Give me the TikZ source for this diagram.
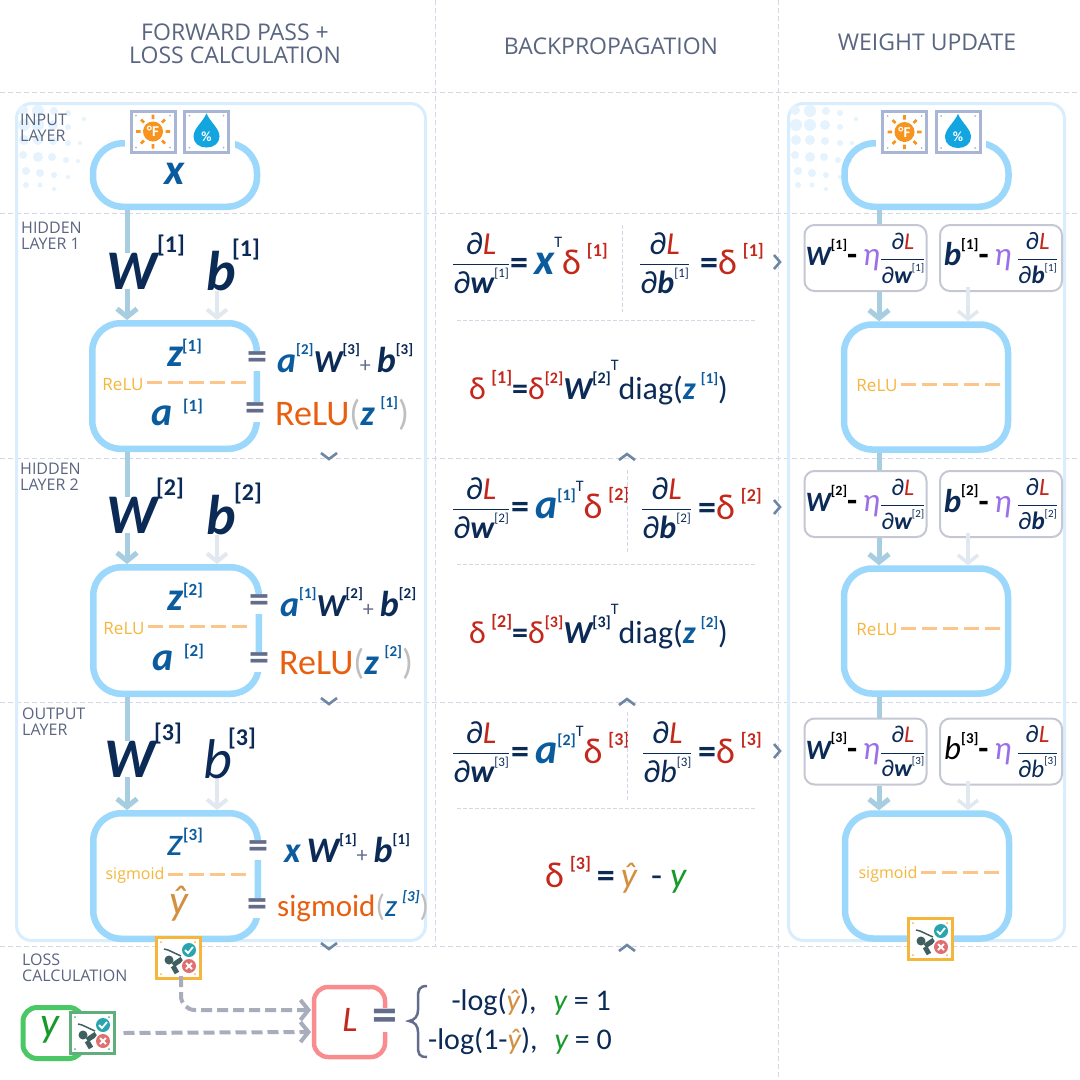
\documentclass[tikz,border=0pt]{standalone}
\usepackage{amsmath}
\usepackage{fontspec}
\setmainfont{Carlito}
\newfontfamily\headfont{Open Sans}
\usetikzlibrary{arrows.meta, positioning, shapes.misc}

\definecolor{navyink}{HTML}{0B2A55}
\definecolor{deepblue}{HTML}{0B5C9E}
\definecolor{errred}{HTML}{C4281C}
\definecolor{relured}{HTML}{E8600F}
\definecolor{labelgold}{HTML}{F5B63C}
\definecolor{dashgold}{HTML}{FCC58A}
\definecolor{etapurple}{HTML}{9A6FE8}
\definecolor{truegreen}{HTML}{179A2A}
\definecolor{predgold}{HTML}{D29040}
\definecolor{eqgray}{HTML}{636C8B}
\definecolor{boxblue}{HTML}{9BD8FB}
\definecolor{panelblue}{HTML}{D8EDFD}
\definecolor{gridgray}{HTML}{D5D8E4}
\definecolor{headgray}{HTML}{5A6580}
\definecolor{wshaft}{HTML}{A6CDE0}
\definecolor{bshaft}{HTML}{E2E8EF}
\definecolor{chevblue}{HTML}{6D87A4}
\definecolor{iconrim}{HTML}{A9B5D4}
\definecolor{updaterim}{HTML}{C5C8D4}
\definecolor{lossdash}{HTML}{A8ADBC}
\definecolor{sunorange}{HTML}{F7941D}
\definecolor{dropblue}{HTML}{12A5E0}
\definecolor{goodteal}{HTML}{2AA5B0}
\definecolor{badred}{HTML}{E07070}
\definecolor{golfer}{HTML}{3F5F60}
\definecolor{ybright}{HTML}{4CC766}
\definecolor{yrim}{HTML}{5FAE7B}
\definecolor{lossrim}{HTML}{F98C8F}

\newcommand{\pt}[1]{\fontsize{#1}{#1}\selectfont}
\newcommand{\nv}[1]{\textcolor{navyink}{\bfseries\itshape #1}}
\newcommand{\bv}[1]{\textcolor{deepblue}{\bfseries\itshape #1}}
\newcommand{\rd}[1]{\textcolor{errred}{#1}}
\newcommand{\up}[2][15]{\raisebox{.5em}{\pt{#1}\bfseries [#2]}}
\newcommand{\upl}[2][13]{\raisebox{.5em}{\pt{#1}\mdseries\upshape [#2]}}
\newcommand{\upT}[1][.9em]{\raisebox{#1}{\pt{16}\mdseries T}}
\newcommand{\dl}[1]{\rd{δ\,\up[18]{#1}}}
\newcommand{\grad}[1]{\textcolor{navyink}{$\genfrac{}{}{1pt}{0}{\hbox{∂\rd{\itshape L}}}{\hbox{∂#1}}$}}

\tikzset{
	grid line/.style={draw=gridgray, line width=1pt, dash pattern=on 5pt off 3pt},
	panel/.style={draw=panelblue, line width=3pt, rounded corners=15pt, minimum width=409pt, minimum height=837pt, inner sep=0pt},
	layerbox/.style={draw=boxblue, line width=6.5pt, rounded corners=28pt, minimum width=164.5pt, minimum height=125.5pt, inner sep=0pt},
	inputbox/.style={draw=boxblue, line width=6.5pt, rounded corners=30pt, minimum width=164pt, minimum height=63.5pt, inner sep=0pt},
	updatebox/.style={draw=updaterim, line width=2pt, rounded corners=10pt, fill=white, minimum width=122pt, minimum height=66pt, inner sep=0pt, font=\pt{33}},
	layername/.style={align=left, anchor=north west, inner sep=0pt, text=headgray, font=\headfont\pt{16}},
	colhead/.style={align=center, inner sep=0pt, text=headgray, font=\headfont\pt{23}},
	eqsign/.style={fill=white, inner sep=1pt, text=eqgray, font=\bfseries\pt{40}},
	bigvar/.style={inner sep=0pt, text=navyink, font=\bfseries\itshape\pt{56}},
	bigsup/.style={inner sep=0pt, text=navyink, font=\bfseries\pt{24}},
	formula/.style={inner sep=0pt, text=navyink, font=\pt{36}},
	nodevar/.style={inner sep=0pt, text=deepblue, font=\bfseries\itshape\pt{40}},
	acttext/.style={inner sep=0pt, text=labelgold, font=\headfont\pt{17}},
	actdash/.style={draw=dashgold, line width=3pt, dash pattern=on 15pt off 6pt},
	wline/.style={draw=wshaft, line width=5pt},
	warrow/.style={wline, -{Straight Barb[length=8pt,width=20pt]}},
	barrow/.style={draw=bshaft, line width=4pt, -{Straight Barb[length=8pt,width=20pt]}},
	lossarrow/.style={draw=lossdash, line width=4pt, dash pattern=on 11pt off 5pt, rounded corners=14pt, -{Straight Barb[length=8pt,width=20pt]}},
	chamfer/.style={chamfered rectangle, chamfered rectangle xsep=6pt, chamfered rectangle ysep=6pt, fill=white, line width=3pt, minimum width=44pt, minimum height=41pt, inner sep=0pt},
	midrule/.style={draw=gridgray, line width=1pt, dash pattern=on 4pt off 2pt},
	chev/.style={draw=chevblue, line width=2.6pt},
	cornerdots/.pic={\fill[pic actions] (-17,-16) circle (1pt) (17,-16) circle (1pt) (-17,16) circle (1pt) (17,16) circle (1pt);},
	sunicon/.pic={
		\fill[sunorange] (0,0) circle (10pt);
		\draw[sunorange, line width=2.8pt] (0,-12.5) -- (0,-17) (0,12.5) -- (0,17) (12.5,0) -- (17,0) (-12.5,0) -- (-17,0)
			(9,-9) -- (12,-12) (-9,-9) -- (-12,-12) (9,9) -- (12,12) (-9,9) -- (-12,12);
		\node[text=white, inner sep=0pt, font=\bfseries\pt{15}] (sunlabel) at (0,0) {°F};
	},
	dropicon/.pic={
		\fill[dropblue] (0,-18) .. controls (4,-9) and (13,-3) .. (13,5) .. controls (13,12) and (7,16) .. (0,16) .. controls (-7,16) and (-13,12) .. (-13,5) .. controls (-13,-3) and (-4,-9) .. (0,-18);
		\node[text=white, inner sep=0pt, font=\bfseries\pt{14}] (droplabel) at (0,5) {\%};
	},
	golficon/.pic={
		\draw[golfer, line width=1.5pt] (-14,-9) -- (-10,-8) -- (3,-2);
		\fill[golfer] (-9,2) circle (4.5pt);
		\draw[golfer, line width=5pt] (-5,7) -- (4,1) (-5,8) -- (-1,15);
		\fill[white] (11,-8) circle (8.5pt) (11,8) circle (8.5pt);
		\fill[goodteal] (11,-8) circle (7pt);
		\draw[white, line width=1.8pt] (7,-8) -- (10,-5) -- (15,-11);
		\fill[badred] (11,8) circle (7pt);
		\draw[white, line width=1.8pt] (8,5) -- (14,11) (8,11) -- (14,5);
	},
	chevdown/.pic={\draw[chev] (-8,-4) -- (0,2) -- (8,-4);},
	chevup/.pic={\draw[chev] (-8,4) -- (0,-2) -- (8,4);},
	chevright/.pic={\draw[chev] (-3,-7) -- (3,0) -- (-3,7);},
	halftone/.pic={
		\fill[panelblue!70] (5,5) circle (5pt) (20,6) circle (6pt) (36,6) circle (4pt) (50,8) circle (3pt) (66,14) circle (2pt)
			(6,20) circle (6pt) (20,20) circle (6pt) (35,20) circle (5pt) (50,22) circle (3pt)
			(6,35) circle (5pt) (20,35) circle (5pt) (35,36) circle (4pt) (50,38) circle (3pt) (62,38) circle (2pt)
			(5,50) circle (4pt) (20,52) circle (5pt) (34,52) circle (4pt) (48,55) circle (3pt) (60,56) circle (2pt)
			(8,66) circle (4pt) (22,68) circle (4pt) (36,70) circle (3pt) (50,72) circle (2pt)
			(8,80) circle (3pt) (22,80) circle (2.5pt) (36,84) circle (2pt);
	}
}

\begin{document}
\begin{tikzpicture}[x=1pt, y=-1pt]
	\useasboundingbox[fill=white] (0,0) rectangle (1080,1080);
	
	% column and layer rulers
	\draw[grid line] (0,92) -- (1080,92);
	\draw[grid line] (0,213) -- (1080,213);
	\draw[grid line] (0,458) -- (1080,458);
	\draw[grid line] (0,702) -- (1080,702);
	\draw[grid line] (0,946) -- (1080,946);
	\draw[grid line] (435,0) -- (435,946);
	\draw[grid line] (778,0) -- (778,1080);
	
	\node[colhead] (headforward) at (235,43.5) {FORWARD PASS +\\LOSS CALCULATION};
	\node[colhead] (headback) at (611,46) {BACKPROPAGATION};
	\node[colhead] (headupdate) at (927,42) {WEIGHT UPDATE};
	
	% panels
	\node[panel] (leftpanel) at (221,522) {};
	\node[panel, minimum width=276pt] (rightpanel) at (926.5,522) {};
	\pic at (18,105) {halftone};
	\pic at (790,105) {halftone};
	
	\node[layername] (nameinput) at (20,114) {INPUT\\LAYER};
	\node[layername] (namehid1) at (21,222) {HIDDEN\\LAYER 1};
	\node[layername] (namehid2) at (20,463) {HIDDEN\\LAYER 2};
	\node[layername] (nameout) at (22,708) {OUTPUT\\LAYER};
	\node[layername] (nameloss) at (22,954) {LOSS\\CALCULATION};
	
	% arrow columns
	\coordinate (wx) at (127,0);
	\coordinate (bx) at (217,0);
	\coordinate (wr) at (879,0);
	\coordinate (br) at (968,0);
	
	% forward pass
	\node[inputbox] (inp) at (175,175) {};
	\node[nodevar, font=\bfseries\itshape\pt{44}] (xlabel) at (175,174) {x};
	\node[fill=white, minimum width=110pt, minimum height=14pt, inner sep=0pt] (inpgap) at (180,144) {};
	\node[chamfer, draw=iconrim] (temp) at (153,131.5) {};
	\pic[fill=iconrim] at (temp) {cornerdots};
	\pic at (temp) {sunicon};
	\node[chamfer, draw=iconrim] (humid) at (206.5,131.5) {};
	\pic[fill=iconrim] at (humid) {cornerdots};
	\pic at (humid) {dropicon};
	
	\node[bigvar] (w1) at (132,271) {W};
	\node[bigsup] (w1s) at (171,246) {[1]};
	\node[bigvar] (b1) at (221,271) {b};
	\node[bigsup] (b1s) at (246,250) {[1]};
	\node[layerbox] (hid1) at (174.5,386) {};
	\draw[wline] (inp.south -| wx) -- (w1.north -| wx);
	\draw[warrow] (w1.south -| wx) -- (hid1.north -| wx);
	\draw[barrow] (b1.south -| bx) -- (hid1.north -| bx);
	\node[nodevar] (z1) at (175,357) {z};
	\node[inner sep=0pt, text=deepblue, font=\bfseries\pt{17}] (z1s) at (192,347) {[1]};
	\node[nodevar] (a1) at (162,416) {a};
	\node[inner sep=0pt, text=deepblue, font=\bfseries\pt{17}] (a1s) at (193,407) {[1]};
	\node[acttext] (act1) at (123,385) {ReLU};
	\draw[actdash] (act1.east) ++(3pt,3pt) -- ++(101pt,0);
	\node[eqsign] (eqz1) at (257,361) {=};
	\node[eqsign] (eqa1) at (255,412) {=};
	\node[formula, anchor=west] (zf1) at (277,358) {\bv{a}\textcolor{deepblue}{\up{2}}{\pt{32}\nv{W}}\up{3}\textcolor{eqgray}{\pt{22}+}\,\nv{b}\up{3}};
	\node[formula, anchor=west] (af1) at (275,414) {\textcolor{relured}{ReLU}\textcolor{black!25}{(}\bv{z}\,\textcolor{deepblue}{\up{1}}\textcolor{black!25}{)}};
	
	\node[bigvar] (w2) at (132,515) {W};
	\node[bigsup] (w2s) at (170,489) {[2]};
	\node[bigvar] (b2) at (221,515) {b};
	\node[bigsup] (b2s) at (248,494) {[2]};
	\node[layerbox, minimum width=165.5pt, minimum height=126.5pt] (hid2) at (176,630.5) {};
	\draw[wline] (hid1.south -| wx) -- (w2.north -| wx);
	\draw[warrow] (w2.south -| wx) -- (hid2.north -| wx);
	\draw[barrow] (b2.south -| bx) -- (hid2.north -| bx);
	\node[nodevar] (z2) at (175,601) {z};
	\node[inner sep=0pt, text=deepblue, font=\bfseries\pt{17}] (z2s) at (193,591) {[2]};
	\node[nodevar] (a2) at (163,661) {a};
	\node[inner sep=0pt, text=deepblue, font=\bfseries\pt{17}] (a2s) at (194,652) {[2]};
	\node[acttext] (act2) at (124,629) {ReLU};
	\draw[actdash] (act2.east) ++(3pt,3pt) -- ++(101pt,0);
	\node[eqsign] (eqz2) at (259,604) {=};
	\node[eqsign] (eqa2) at (259,662) {=};
	\node[formula, anchor=west] (zf2) at (280,602) {\bv{a}\textcolor{deepblue}{\up{1}}{\pt{32}\nv{W}}\up{2}\textcolor{eqgray}{\pt{22}+}\,\nv{b}\up{2}};
	\node[formula, anchor=west] (af2) at (279,663) {\textcolor{relured}{ReLU}\textcolor{black!25}{(}\bv{z}\,\textcolor{deepblue}{\up{2}}\textcolor{black!25}{)}};
	
	\node[bigvar] (w3) at (130,759) {W};
	\node[bigsup] (w3s) at (168,733) {[3]};
	\node[bigvar, font=\itshape\pt{56}] (b3) at (218,759) {b};
	\node[bigsup] (b3s) at (242,738) {[3]};
	\node[layerbox] (out) at (175.5,876) {};
	\draw[wline] (hid2.south -| wx) -- (w3.north -| wx);
	\draw[warrow] (w3.south -| wx) -- (out.north -| wx);
	\draw[barrow] (b3.south -| bx) -- (out.north -| bx);
	\node[nodevar, font=\itshape\pt{40}] (z3) at (175,846) {z};
	\node[inner sep=0pt, text=deepblue, font=\bfseries\pt{17}] (z3s) at (193,836) {[3]};
	\node[formula, text=predgold, font=\itshape\pt{42}] (yhat) at (179,904) {ŷ};
	\node[acttext, font=\headfont\pt{16}] (act3) at (135,875) {sigmoid};
	\draw[actdash] (act3.east) ++(3pt,1pt) -- ++(78pt,0);
	\node[eqsign] (eqz3) at (258,850) {=};
	\node[eqsign] (eqa3) at (257,908) {=};
	\node[formula, anchor=west] (zf3) at (284,848) {\bv{x}\,\nv{W}\up{1}\textcolor{eqgray}{\pt{22}+}\,\nv{b}\up{1}};
	\node[formula, anchor=west, font=\pt{31}] (af3) at (277,906) {\textcolor{relured}{sigmoid}\textcolor{black!25}{(}\textcolor{deepblue}{\itshape z\,\up{3}}\textcolor{black!25}{)}};
	
	\pic at (329,457) {chevdown};
	\pic at (329,702) {chevdown};
	\pic at (329,947) {chevdown};
	
	% backpropagation
	\node[formula, anchor=base west, font=\pt{32}] (gw1) at (452,271) {\grad{\nv{w}\upl{1}}};
	\node[formula, anchor=base west] (gw1r) at (510,274) {\textbf{=}\,{\pt{44}\bv{x}}\upT[.75em]\dl{1}};
	\draw[midrule] (622,225) -- (622,312);
	\node[formula, anchor=base west, font=\pt{32}] (gb1) at (639,271) {\grad{\nv{b}\upl{1}}};
	\node[formula, anchor=base west] (gb1r) at (700,274) {\textbf{=}\dl{1}};
	\draw[midrule] (457,320) -- (755,320);
	\node[formula, anchor=west, font=\pt{32}] (d1) at (469,383) {\dl{1}\textbf{=}\rd{δ\up[16]{2}}\nv{W}\up[16]{2}\upT diag(\bv{z}\,\textcolor{deepblue}{\up{1}})};
	\pic at (777,262) {chevright};
	\pic at (627,456) {chevup};
	
	\node[formula, anchor=base west, font=\pt{32}] (gw2) at (452,516) {\grad{\nv{w}\upl{2}}};
	\node[formula, anchor=base west] (gw2r) at (511,518) {\textbf{=}\,{\pt{42}\bv{a}}\textcolor{deepblue}{\up[16]{1}}\upT[.75em]\dl{2}};
	\draw[midrule] (627,470) -- (627,553);
	\node[formula, anchor=base west, font=\pt{32}] (gb2) at (641,516) {\grad{\nv{b}\upl{2}}};
	\node[formula, anchor=base west] (gb2r) at (698,519) {\textbf{=}\dl{2}};
	\draw[midrule] (457,564) -- (755,564);
	\node[formula, anchor=west, font=\pt{32}] (d2) at (469,627) {\dl{2}\textbf{=}\rd{δ\up[16]{3}}\nv{W}\up[16]{3}\upT diag(\bv{z}\,\textcolor{deepblue}{\up{2}})};
	\pic at (777,507) {chevright};
	\pic at (627,701) {chevup};
	
	\node[formula, anchor=base west, font=\pt{32}] (gw3) at (452,760) {\grad{\nv{w}\upl{3}}};
	\node[formula, anchor=base west] (gw3r) at (511,763) {\textbf{=}\,{\pt{42}\bv{a}}\textcolor{deepblue}{\up[16]{2}}\upT[.75em]\dl{3}};
	\draw[midrule] (627,712) -- (627,800);
	\node[formula, anchor=base west, font=\pt{32}] (gb3) at (642,760) {\grad{\textit{b}\upl{3}}};
	\node[formula, anchor=base west] (gb3r) at (698,763) {\textbf{=}\dl{3}};
	\draw[midrule] (457,808) -- (755,808);
	\node[formula, anchor=west] (d3) at (545,875) {\dl{3}\,\textbf{=}\,\textcolor{predgold}{\itshape ŷ}\, - \textcolor{truegreen}{\itshape y}};
	\pic at (777,751) {chevright};
	\pic at (627,947) {chevup};
	
	% weight update
	\node[inputbox] (inpr) at (926.5,175) {};
	\node[fill=white, minimum width=110pt, minimum height=14pt, inner sep=0pt] (inprgap) at (931,144) {};
	\node[chamfer, draw=iconrim] (tempr) at (904.5,132) {};
	\pic[fill=iconrim] at (tempr) {cornerdots};
	\pic at (tempr) {sunicon};
	\node[chamfer, draw=iconrim] (humidr) at (958,132) {};
	\pic[fill=iconrim] at (humidr) {cornerdots};
	\pic at (humidr) {dropicon};
	
	\node[updatebox] (uw1) at (865.5,258) {{\pt{28}\nv{W}}\up[14]{1}\textbf{-}\,\textcolor{etapurple}{\itshape η}\pt{24}\grad{\nv{w}\upl[11]{1}}};
	\node[updatebox] (ub1) at (1001,258) {\nv{b}\up{1}\textbf{-}\,\textcolor{etapurple}{\itshape η}\,\pt{25}\grad{\nv{b}\upl[11]{1}}};
	\node[layerbox, minimum width=164pt, minimum height=125pt] (hid1r) at (926,387) {};
	\draw[wline] (inpr.south -| wr) -- (uw1.north -| wr);
	\draw[warrow] (uw1.south -| wr) -- (hid1r.north -| wr);
	\draw[barrow, line width=3.5pt] (ub1.south -| br) ++(0,5pt) -- (hid1r.north -| br);
	\node[acttext] (act1r) at (877,386) {ReLU};
	\draw[actdash] (act1r.east) ++(3pt,2pt) -- ++(101pt,0);
	
	\node[updatebox] (uw2) at (865.5,504) {{\pt{28}\nv{W}}\up[14]{2}\textbf{-}\,\textcolor{etapurple}{\itshape η}\pt{24}\grad{\nv{w}\upl[11]{2}}};
	\node[updatebox] (ub2) at (1001,504) {\nv{b}\up{2}\textbf{-}\,\textcolor{etapurple}{\itshape η}\,\pt{25}\grad{\nv{b}\upl[11]{2}}};
	\node[layerbox, minimum width=164pt, minimum height=125pt] (hid2r) at (926,631) {};
	\draw[wline] (hid1r.south -| wr) -- (uw2.north -| wr);
	\draw[warrow] (uw2.south -| wr) -- (hid2r.north -| wr);
	\draw[barrow, line width=3.5pt] (ub2.south -| br) ++(0,5pt) -- (hid2r.north -| br);
	\node[acttext] (act2r) at (877,630) {ReLU};
	\draw[actdash] (act2r.east) ++(3pt,2pt) -- ++(101pt,0);
	
	\node[updatebox] (uw3) at (865.5,751.5) {{\pt{28}\nv{W}}\up[14]{3}\textbf{-}\,\textcolor{etapurple}{\itshape η}\pt{24}\grad{\nv{w}\upl[11]{3}}};
	\node[updatebox] (ub3) at (1001,751.5) {\textit{b}\up{3}\textbf{-}\,\textcolor{etapurple}{\itshape η}\,\pt{25}\grad{\textit{b}\upl[11]{3}}};
	\node[layerbox, minimum width=164pt, minimum height=125pt] (outr) at (927,876) {};
	\draw[wline] (hid2r.south -| wr) -- (uw3.north -| wr);
	\draw[warrow] (uw3.south -| wr) -- (outr.north -| wr);
	\draw[barrow, line width=3.5pt] (ub3.south -| br) ++(0,5pt) -- (outr.north -| br);
	\node[acttext, font=\headfont\pt{16}] (act3r) at (888,874) {sigmoid};
	\draw[actdash] (act3r.east) ++(3pt,2pt) -- ++(78pt,0);
	
	\node[chamfer, draw=labelgold] (predr) at (930,939) {};
	\pic[fill=labelgold] at (predr) {cornerdots};
	\pic at (predr) {golficon};
	
	% loss calculation
	\node[chamfer, draw=labelgold] (pred) at (178,958) {};
	\pic[fill=labelgold] at (pred) {cornerdots};
	\pic at (pred) {golficon};
	
	\node[draw=ybright, line width=5pt, rounded corners=14pt, minimum width=60pt, minimum height=51pt, inner sep=0pt] (ybox) at (53,1033) {};
	\node[text=truegreen, inner sep=0pt, font=\itshape\pt{42}] (ylabel) at (50,1030) {y};
	\node[chamfer, draw=yrim] (truth) at (92,1033) {};
	\pic[fill=yrim] at (truth) {cornerdots};
	\pic at (truth) {golficon};
	
	\node[draw=lossrim, line width=4.5pt, rounded corners=14pt, minimum width=71pt, minimum height=70pt, inner sep=0pt] (loss) at (349.5,1022) {};
	\node[text=errred, inner sep=0pt, font=\itshape\pt{36}] (losslabel) at (350,1020) {L};
	\node[eqsign, font=\bfseries\pt{50}] (eqloss) at (385,1020) {=};
	\coordinate (predleft) at (311,1010);
	\coordinate (trueleft) at (311,1032);
	\draw[lossarrow] (pred.south) ++(3pt,4pt) |- (predleft);
	\draw[lossarrow] (truth.east) ++(8pt,0) -- (trueleft);
	\draw[draw=eqgray, line width=2.5pt] (427,986) .. controls (419,986) and (418,990) .. (418,998) -- (418,1010) .. controls (418,1016) and (415,1020) .. (409,1021) .. controls (415,1022) and (418,1026) .. (418,1032) -- (418,1046) .. controls (418,1054) and (419,1057) .. (427,1057);
	\node[formula, anchor=east, font=\pt{30}] (caseone) at (611,1002) {-log(\textcolor{predgold}{\itshape ŷ}),\hspace{17pt}\textcolor{truegreen}{\itshape y} = 1};
	\node[formula, anchor=east, font=\pt{30}] (casezero) at (612,1041) {-log(1-\textcolor{predgold}{\itshape ŷ}),\hspace{17pt}\textcolor{truegreen}{\itshape y} = 0};
\end{tikzpicture}
\end{document}
